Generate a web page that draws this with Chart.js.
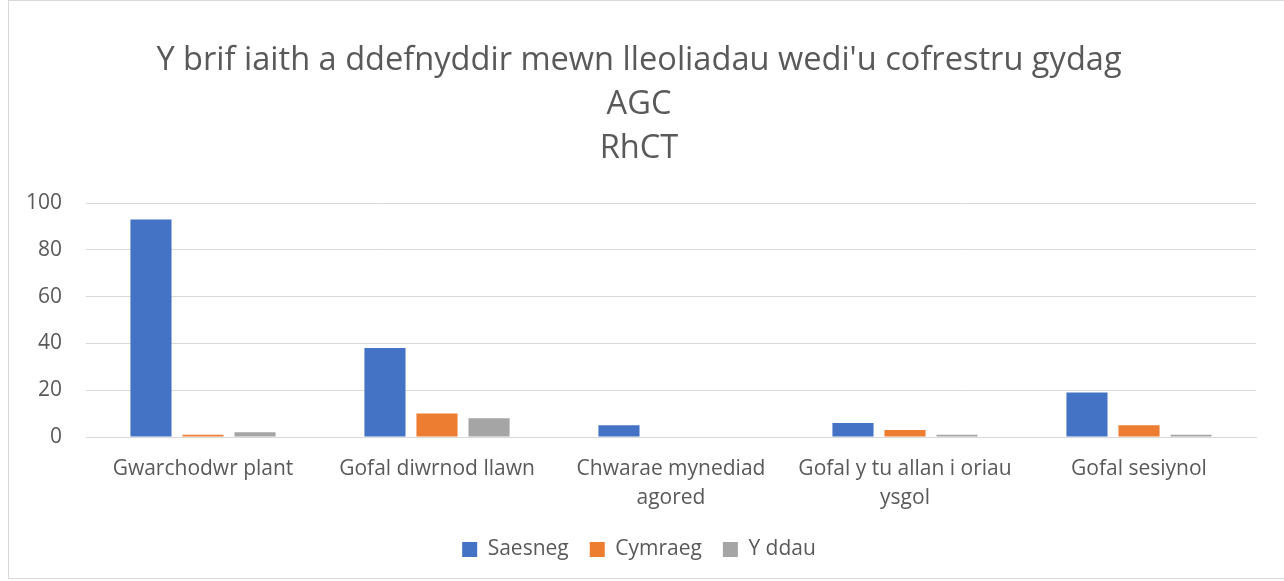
<!DOCTYPE html>
<html>
<head>
<meta charset="utf-8">
<script src="https://cdn.jsdelivr.net/npm/chart.js@4"></script>
<style>
  html, body { margin: 0; padding: 0; background: #fff; }
  #wrap { position: relative; width: 1284px; height: 581px; }
  #frame { position: absolute; left: 8px; top: 0; width: 1290px; height: 579px; border: 1px solid #d9d9d9; box-sizing: border-box; pointer-events: none; }
</style>
</head>
<body>
<div id="wrap">
  <canvas id="chart1" width="1284" height="581"></canvas>
  <div id="frame"></div>
</div>
<script>
const titleLines = ["Y brif iaith a ddefnyddir mewn lleoliadau wedi'u cofrestru gydag", "AGC", "RhCT"];
const categories = [
  "Gwarchodwr plant",
  "Gofal diwrnod llawn",
  ["Chwarae mynediad", "agored"],
  ["Gofal y tu allan i oriau", "ysgol"],
  "Gofal sesiynol"
];
const saesneg = [93, 38, 5, 6, 19];
const cymraeg = [1, 10, 0, 3, 5];
const yDdau = [2, 8, 0, 1, 1];
const yTicks = [0, 20, 40, 60, 80, 100];

const txt = '#595959';
const fontFam = "'Open Sans', sans-serif";

const ctx = document.getElementById('chart1').getContext('2d');
new Chart(ctx, {
  type: 'bar',
  data: {
    labels: categories,
    datasets: [
      { label: 'Saesneg', data: saesneg, backgroundColor: '#4472C4' },
      { label: 'Cymraeg', data: cymraeg, backgroundColor: '#ED7D31' },
      { label: 'Y ddau', data: yDdau, backgroundColor: '#A5A5A5' }
    ]
  },
  options: {
    responsive: false,
    animation: false,
    // left padding nudges title and legend towards the middle of the framed box
    layout: { padding: { left: 22, right: 28, top: 0, bottom: 11 } },
    datasets: { bar: { categoryPercentage: 0.667, barPercentage: 0.79 } },
    plugins: {
      title: {
        display: true,
        text: titleLines,
        color: txt,
        font: { family: fontFam, size: 32.6, weight: 'normal', lineHeight: '44px' },
        padding: { top: 39, bottom: 32 }
      },
      legend: {
        position: 'bottom',
        labels: {
          color: txt,
          font: { family: fontFam, size: 21 },
          boxWidth: 15,
          boxHeight: 15,
          padding: 21
        }
      },
      tooltip: { enabled: false }
    },
    scales: {
      x: {
        grid: { display: false, drawTicks: false },
        border: { color: '#d9d9d9', width: 1 },
        afterFit: s => { s.height = 81; },
        ticks: { color: txt, font: { family: fontFam, size: 21, lineHeight: '29px' }, padding: 18, maxRotation: 0, autoSkip: false }
      },
      y: {
        min: 0,
        max: 100,
        afterFit: s => { s.width = 64; },
        afterBuildTicks: s => { s.ticks = yTicks.map(v => ({ value: v })); },
        grid: { color: '#d9d9d9', drawTicks: false },
        border: { display: false },
        ticks: { color: txt, font: { family: fontFam, size: 21 }, padding: 24 }
      }
    }
  }
});
</script>
</body>
</html>
